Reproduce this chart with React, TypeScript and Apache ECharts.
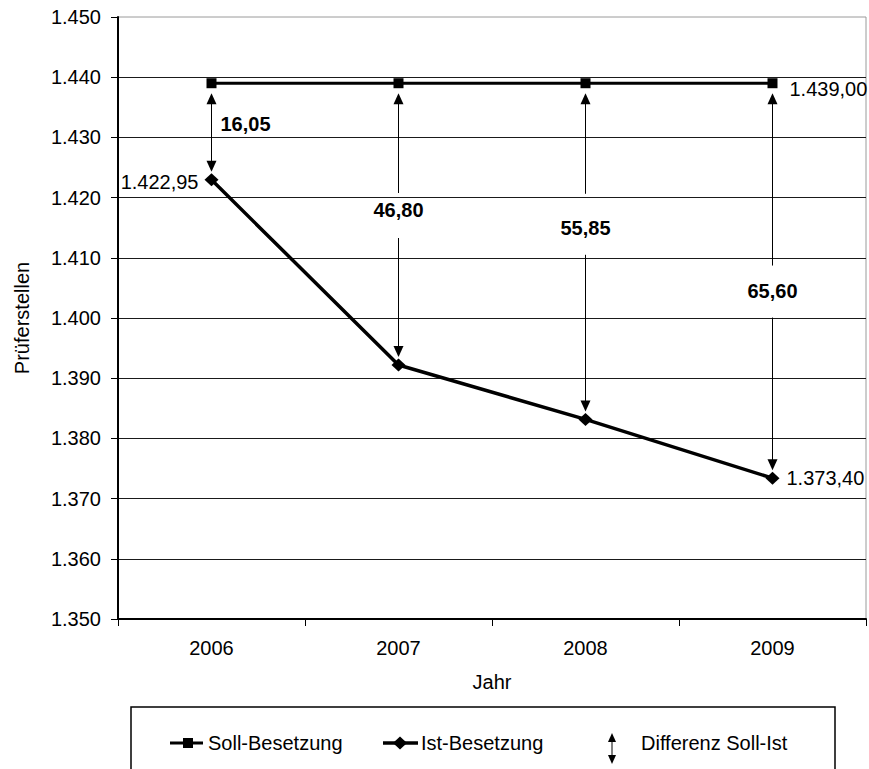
import React, { useEffect, useRef } from "react";
import * as echarts from "echarts";

// ---- data ----
const years = ["2006", "2007", "2008", "2009"];
const sollValues = [1439, 1439, 1439, 1439];
const istValues = [1422.95, 1392.2, 1383.15, 1373.4];
const yAxisMin = 1350;
const yAxisMax = 1450;
const yAxisStep = 10;

// ---- layout for the difference labels (fraction along the arrow, gap around label) ----
const diffLayout = [
  { t: 0.42, beside: true, gapUp: 0, gapDown: 0 },
  { t: 0.45, beside: false, gapUp: 17, gapDown: 28 },
  { t: 0.43, beside: false, gapUp: 34, gapDown: 27 },
  { t: 0.525, beside: false, gapUp: 25, gapDown: 27 },
];

const FONT = "'Liberation Sans', Arial, sans-serif";

function deNum(v: number, decimals: number): string {
  const s = v.toFixed(decimals);
  const [i, d] = s.split(".");
  const ii = i.replace(/\B(?=(\d{3})+(?!\d))/g, ".");
  return d ? ii + "," + d : ii;
}

export default function App() {
  const ref = useRef<HTMLDivElement>(null);

  useEffect(() => {
    if (!ref.current) return;
    const chart = echarts.init(ref.current, undefined, { renderer: "svg" });

    const arrowData = years.map((_, i) => [i, sollValues[i], istValues[i]]);

    const renderArrow = (params: any, api: any) => {
      const idx = api.value(0);
      const top = api.coord([idx, api.value(1)]);
      const bot = api.coord([idx, api.value(2)]);
      const x = top[0];
      const tipTop = top[1] + 10;
      const tipBot = bot[1] - 8;
      const hl = 11;
      const hw = 5;
      const lay = diffLayout[idx];
      const labelY = top[1] + lay.t * (bot[1] - top[1]);
      const lineStyle = { stroke: "#000", lineWidth: 1 };
      const children: any[] = [
        {
          type: "polygon",
          shape: { points: [[x, tipTop], [x - hw, tipTop + hl], [x + hw, tipTop + hl]] },
          style: { fill: "#000" },
        },
        {
          type: "polygon",
          shape: { points: [[x, tipBot], [x - hw, tipBot - hl], [x + hw, tipBot - hl]] },
          style: { fill: "#000" },
        },
      ];
      const text = deNum(api.value(1) - api.value(2), 2);
      if (lay.beside) {
        children.push({
          type: "line",
          shape: { x1: x, y1: tipTop + hl - 1, x2: x, y2: tipBot - hl + 1 },
          style: lineStyle,
        });
        children.push({
          type: "text",
          style: {
            text,
            x: x + 9,
            y: labelY,
            fill: "#000",
            fontSize: 20,
            fontWeight: "bold",
            fontFamily: FONT,
            align: "left",
            verticalAlign: "middle",
          },
        });
      } else {
        children.push({
          type: "line",
          shape: { x1: x, y1: tipTop + hl - 1, x2: x, y2: labelY - lay.gapUp },
          style: lineStyle,
        });
        children.push({
          type: "line",
          shape: { x1: x, y1: labelY + lay.gapDown, x2: x, y2: tipBot - hl + 1 },
          style: lineStyle,
        });
        children.push({
          type: "text",
          style: {
            text,
            x,
            y: labelY,
            fill: "#000",
            fontSize: 20,
            fontWeight: "bold",
            fontFamily: FONT,
            align: "center",
            verticalAlign: "middle",
          },
        });
      }
      return { type: "group", children };
    };

    const legendY = 743;
    const legendText = (text: string, x: number) => ({
      type: "text",
      z: 5,
      style: {
        text,
        x,
        y: legendY,
        fill: "#000",
        fontSize: 20,
        fontFamily: FONT,
        align: "left",
        verticalAlign: "middle",
      },
    });

    const option: any = {
      animation: false,
      backgroundColor: "#fff",
      grid: {
        left: 118,
        top: 17,
        right: 3,
        bottom: 150,
        show: true,
        borderColor: "#9a9a9a",
        borderWidth: 1,
        containLabel: false,
        outerBoundsMode: "none",
      },
      xAxis: {
        type: "category",
        data: years,
        boundaryGap: true,
        name: "Jahr",
        nameLocation: "middle",
        nameGap: 53,
        nameTextStyle: { color: "#000", fontSize: 20, fontFamily: FONT },
        axisLine: { show: true, lineStyle: { color: "#000", width: 2 } },
        axisTick: { show: true, alignWithLabel: false, length: 7, lineStyle: { color: "#000", width: 1 } },
        axisLabel: { color: "#000", fontSize: 20, fontFamily: FONT, margin: 19 },
        splitLine: { show: false },
      },
      yAxis: {
        type: "value",
        min: yAxisMin,
        max: yAxisMax,
        interval: yAxisStep,
        name: "Prüferstellen",
        nameLocation: "middle",
        nameRotate: 90,
        nameGap: 86,
        nameTextStyle: { color: "#000", fontSize: 20, fontFamily: FONT },
        axisLine: { show: true, lineStyle: { color: "#000", width: 2 } },
        axisTick: { show: true, length: 7, lineStyle: { color: "#000", width: 1 } },
        axisLabel: {
          color: "#000",
          fontSize: 20,
          fontFamily: FONT,
          margin: 17,
          formatter: (v: number) => deNum(v, 0),
        },
        splitLine: {
          show: true,
          showMinLine: false,
          showMaxLine: false,
          lineStyle: { color: "#1a1a1a", width: 1 },
        },
      },
      series: [
        {
          name: "Soll-Besetzung",
          type: "line",
          data: sollValues.map((v, i) => ({
            value: v,
            label:
              i === sollValues.length - 1
                ? {
                    show: true,
                    position: "right",
                    distance: 12,
                    offset: [0, 6],
                    formatter: (p: any) => deNum(p.value, 2),
                    color: "#000",
                    fontSize: 20,
                    fontFamily: FONT,
                  }
                : { show: false },
          })),
          symbol: "rect",
          symbolSize: 10,
          showAllSymbol: true,
          lineStyle: { color: "#000", width: 3 },
          itemStyle: { color: "#000" },
          z: 3,
        },
        {
          name: "Ist-Besetzung",
          type: "line",
          data: istValues.map((v, i) => ({
            value: v,
            label:
              i === 0
                ? {
                    show: true,
                    position: "left",
                    distance: 6,
                    offset: [0, 2],
                    formatter: (p: any) => deNum(p.value, 2),
                    color: "#000",
                    fontSize: 20,
                    fontFamily: FONT,
                  }
                : i === istValues.length - 1
                ? {
                    show: true,
                    position: "right",
                    distance: 7,
                    formatter: (p: any) => deNum(p.value, 2),
                    color: "#000",
                    fontSize: 20,
                    fontFamily: FONT,
                  }
                : { show: false },
          })),
          symbol: "diamond",
          symbolSize: [14, 13],
          showAllSymbol: true,
          lineStyle: { color: "#000", width: 3.5 },
          itemStyle: { color: "#000" },
          z: 3,
        },
        {
          name: "Differenz Soll-Ist",
          type: "custom",
          data: arrowData,
          encode: { x: 0, y: [1, 2] },
          renderItem: renderArrow,
          z: 4,
        },
      ],
      graphic: [
        {
          type: "rect",
          z: 1,
          shape: { x: 131, y: 707, width: 704, height: 80 },
          style: { fill: "#fff", stroke: "#000", lineWidth: 1.5 },
        },
        {
          type: "line",
          z: 4,
          shape: { x1: 170, y1: legendY, x2: 203, y2: legendY },
          style: { stroke: "#000", lineWidth: 3 },
        },
        {
          type: "rect",
          z: 4,
          shape: { x: 183, y: legendY - 5, width: 10, height: 10 },
          style: { fill: "#000" },
        },
        legendText("Soll-Besetzung", 208),
        {
          type: "line",
          z: 4,
          shape: { x1: 383, y1: legendY, x2: 418, y2: legendY },
          style: { stroke: "#000", lineWidth: 3.5 },
        },
        {
          type: "polygon",
          z: 4,
          shape: { points: [[400, legendY - 6.5], [407, legendY], [400, legendY + 6.5], [393, legendY]] },
          style: { fill: "#000" },
        },
        legendText("Ist-Besetzung", 421),
        {
          type: "polygon",
          z: 4,
          shape: { points: [[612, 733], [608, 742], [616, 742]] },
          style: { fill: "#000" },
        },
        {
          type: "polygon",
          z: 4,
          shape: { points: [[612, 764], [608, 755], [616, 755]] },
          style: { fill: "#000" },
        },
        {
          type: "line",
          z: 4,
          shape: { x1: 612, y1: 741, x2: 612, y2: 756 },
          style: { stroke: "#000", lineWidth: 1 },
        },
        legendText("Differenz Soll-Ist", 641),
      ],
    };

    chart.setOption(option);
    return () => chart.dispose();
  }, []);

  return (
    <div
      ref={ref}
      style={{ position: "absolute", left: 0, top: 0, width: 869, height: 769, background: "#fff" }}
    />
  );
}
